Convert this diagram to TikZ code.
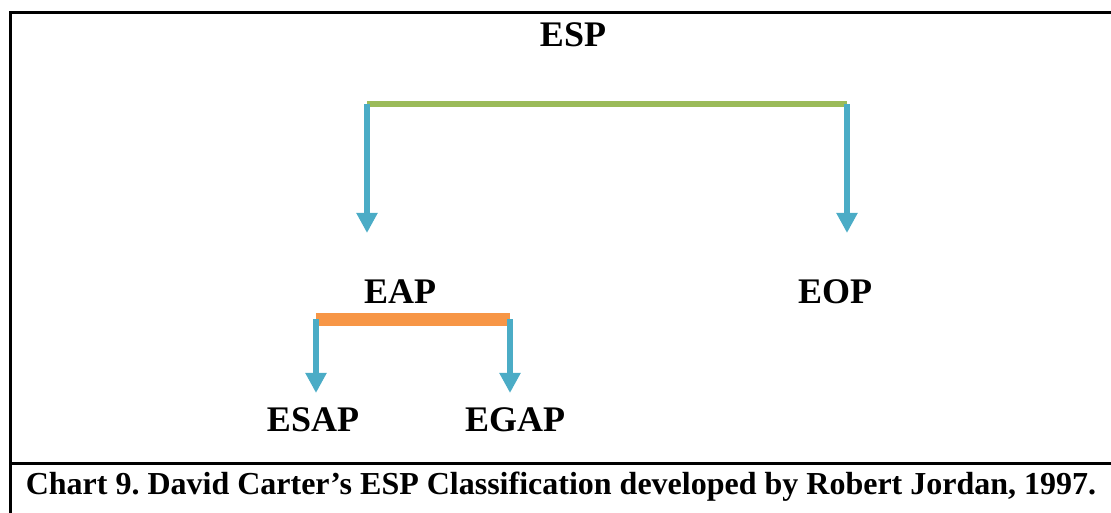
\documentclass[tikz,border=0pt]{standalone}
\usepackage{fontspec}
\setmainfont{Liberation Serif}
\usetikzlibrary{arrows.meta}
\definecolor{barGreen}{HTML}{9BBB59}
\definecolor{barOrange}{HTML}{F79646}
\definecolor{arrowBlue}{HTML}{4BACC6}
\tikzset{
  label text/.style={font=\bfseries\fontsize{27}{30}\selectfont, inner sep=0pt, anchor=center},
  caption text/.style={font=\bfseries\fontsize{24}{27}\selectfont, inner sep=0pt, anchor=center},
  frame line/.style={draw=black, line width=2.25pt},
  bar green/.style={draw=barGreen, line width=4.5pt},
  bar orange/.style={draw=barOrange, line width=9.5pt},
  down arrow/.style={draw=arrowBlue, line width=4.8pt,
    -{Triangle[width=15pt,length=15pt]}},
}
\frenchspacing
\begin{document}
\begin{tikzpicture}[x=0.75pt,y=-0.75pt]
  \useasboundingbox (0,0) rectangle (1111,513);
  % frame: left side, top, and caption separator
  \draw[frame line] (10,513) -- (10,13) -- (1111,13);
  \draw[frame line] (10,463) -- (1111,463);

  % labels
  \node[label text] (esp) at (573,35) {ESP};
  \node[label text] (eap) at (400,292) {EAP};
  \node[label text] (eop) at (835,292) {EOP};
  \node[label text] (esap) at (313,420) {ESAP};
  \node[label text] (egap) at (515,420) {EGAP};
  \node[caption text] (cap) at (561,487) {Chart 9. David Carter’s ESP Classification developed by Robert Jordan, 1997.};

  % top branch
  \coordinate (gL) at (367,104);
  \coordinate (gR) at (847,104);
  \coordinate (tipEAP) at (367,233);
  \coordinate (tipEOP) at (847,233);
  \draw[bar green] (gL) -- (gR);
  \draw[down arrow] (gL) -- (tipEAP);
  \draw[down arrow] (gR) -- (tipEOP);

  % EAP branch
  \coordinate (oL) at (316,319.5);
  \coordinate (oR) at (510,319.5);
  \coordinate (tipESAP) at (316,393);
  \coordinate (tipEGAP) at (510,393);
  \draw[bar orange] (oL) -- (oR);
  \draw[down arrow] (oL) -- (tipESAP);
  \draw[down arrow] (oR) -- (tipEGAP);
\end{tikzpicture}
\end{document}
